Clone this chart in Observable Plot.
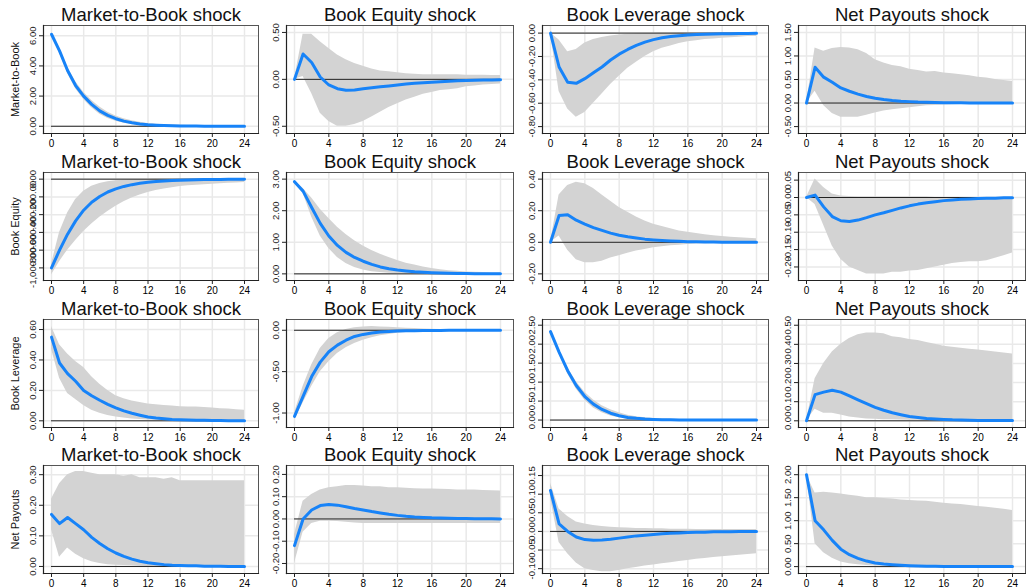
<!DOCTYPE html>
<html><head><meta charset="utf-8">
<script src="https://cdn.jsdelivr.net/npm/d3@7"></script>
<script src="https://cdn.jsdelivr.net/npm/@observablehq/plot@0.6"></script>
<style>
body{margin:0;background:#fff}
#root{position:relative;width:1026px;height:588px;overflow:hidden;background:#fff}
#root svg{position:absolute;overflow:visible}
</style></head><body><div id="root"></div>
<script>
const horizons = [0,1,2,3,4,5,6,7,8,9,10,11,12,13,14,15,16,17,18,19,20,21,22,23,24];
const variables = ["Market-to-Book","Book Equity","Book Leverage","Net Payouts"];
const shocks = ["Market-to-Book shock","Book Equity shock","Book Leverage shock","Net Payouts shock"];
const xTicks = [0,4,8,12,16,20,24];

// Row 1: Market-to-Book response
const mb_mb_irf = [6.10,5.00,3.70,2.70,2.00,1.45,1.02,0.72,0.50,0.34,0.23,0.15,0.10,0.07,0.05,0.03,0.02,0.015,0.01,0.007,0.005,0.004,0.003,0.002,0.002];
const mb_mb_hi  = [6.20,5.15,3.92,2.95,2.25,1.70,1.27,0.93,0.68,0.49,0.36,0.26,0.19,0.14,0.10,0.08,0.06,0.05,0.04,0.03,0.025,0.02,0.02,0.015,0.015];
const mb_mb_lo  = [6.00,4.85,3.50,2.48,1.78,1.22,0.80,0.52,0.33,0.20,0.12,0.07,0.04,0.02,0.01,0.005,0,0,0,0,0,0,0,0,0];
const mb_be_irf = [0,0.27,0.18,0.025,-0.06,-0.10,-0.115,-0.113,-0.10,-0.09,-0.08,-0.07,-0.06,-0.05,-0.042,-0.035,-0.03,-0.025,-0.02,-0.016,-0.013,-0.01,-0.008,-0.006,-0.005];
const mb_be_hi  = [0,0.48,0.48,0.40,0.33,0.26,0.21,0.17,0.14,0.11,0.09,0.08,0.07,0.06,0.055,0.05,0.05,0.05,0.05,0.05,0.045,0.045,0.045,0.04,0.04];
const mb_be_lo  = [0,0.03,-0.15,-0.36,-0.45,-0.50,-0.50,-0.48,-0.45,-0.40,-0.35,-0.30,-0.26,-0.22,-0.19,-0.16,-0.14,-0.12,-0.11,-0.10,-0.08,-0.07,-0.06,-0.055,-0.05];
const mb_bl_irf = [0,-0.29,-0.42,-0.43,-0.39,-0.34,-0.29,-0.23,-0.18,-0.14,-0.105,-0.077,-0.056,-0.04,-0.03,-0.022,-0.017,-0.013,-0.01,-0.008,-0.006,-0.005,-0.004,-0.003,-0.002];
const mb_bl_hi  = [0,-0.06,-0.16,-0.14,-0.085,-0.055,-0.037,-0.025,-0.016,-0.01,-0.006,-0.004,-0.003,-0.002,-0.001,0,0,0,0,0,0,0,0,0,0];
const mb_bl_lo  = [0,-0.50,-0.65,-0.72,-0.68,-0.60,-0.52,-0.44,-0.37,-0.30,-0.25,-0.20,-0.16,-0.13,-0.11,-0.09,-0.075,-0.065,-0.055,-0.05,-0.045,-0.04,-0.035,-0.03,-0.03];
const mb_np_irf = [0,0.76,0.55,0.44,0.32,0.25,0.19,0.14,0.10,0.075,0.055,0.04,0.03,0.02,0.015,0.01,0.008,0.006,0.004,0.003,0.002,0.002,0.001,0.001,0.001];
const mb_np_hi  = [0,1.17,1.10,1.16,1.18,1.17,1.13,1.05,0.92,0.85,0.80,0.77,0.72,0.69,0.66,0.67,0.64,0.62,0.60,0.58,0.55,0.53,0.50,0.48,0.46];
const mb_np_lo  = [0,0.25,-0.05,-0.22,-0.30,-0.30,-0.30,-0.26,-0.21,-0.17,-0.14,-0.12,-0.10,-0.08,-0.06,-0.05,-0.04,-0.035,-0.03,-0.025,-0.02,-0.02,-0.02,-0.02,-0.02];

// Row 2: Book Equity response
const be_mb_irf = [-1000,-800,-620,-470,-350,-260,-195,-145,-110,-82,-62,-47,-36,-27,-21,-16,-12,-9,-7,-5,-4,-3,-2,-1.5,-1];
const be_mb_hi  = [-960,-600,-380,-230,-135,-80,-48,-30,-19,-12,-8,-5,-3,-2,-1,0,0,0,0,0,0,0,0,0,0];
const be_mb_lo  = [-1080,-930,-800,-690,-590,-505,-430,-365,-305,-255,-212,-178,-150,-128,-110,-96,-84,-75,-68,-62,-57,-52,-47,-42,-38];
const be_be_irf = [2.92,2.62,2.10,1.60,1.20,0.90,0.68,0.52,0.40,0.30,0.22,0.16,0.12,0.09,0.065,0.048,0.035,0.026,0.019,0.014,0.01,0.007,0.005,0.004,0.003];
const be_be_hi  = [2.95,2.70,2.40,2.05,1.75,1.48,1.25,1.05,0.88,0.74,0.62,0.52,0.42,0.34,0.28,0.22,0.17,0.13,0.10,0.08,0.06,0.05,0.04,0.03,0.025];
const be_be_lo  = [2.88,2.55,1.80,1.20,0.80,0.52,0.33,0.20,0.12,0.07,0.04,0.02,0.01,0.005,0,0,0,0,0,0,0,0,0,0,0];
const be_bl_irf = [0,0.17,0.175,0.14,0.115,0.093,0.075,0.058,0.045,0.035,0.027,0.02,0.015,0.011,0.008,0.006,0.004,0.003,0.002,0.002,0.001,0.001,0.001,0,0];
const be_bl_hi  = [0,0.30,0.36,0.38,0.37,0.34,0.30,0.26,0.22,0.19,0.16,0.135,0.115,0.10,0.085,0.072,0.063,0.055,0.048,0.042,0.037,0.032,0.028,0.025,0.022];
const be_bl_lo  = [0,0.04,-0.05,-0.11,-0.13,-0.13,-0.12,-0.10,-0.085,-0.07,-0.055,-0.045,-0.035,-0.028,-0.022,-0.018,-0.014,-0.011,-0.009,-0.007,-0.006,-0.005,-0.004,-0.004,-0.003];
const be_np_irf = [0,0.007,-0.027,-0.055,-0.067,-0.069,-0.065,-0.058,-0.05,-0.044,-0.037,-0.03,-0.024,-0.019,-0.015,-0.012,-0.009,-0.007,-0.005,-0.004,-0.003,-0.002,-0.002,-0.001,-0.001];
const be_np_hi  = [0,0.053,0.029,0.01,0.004,0.003,0.002,0.002,0.002,0.002,0.002,0.002,0.002,0.002,0.002,0.001,0.001,0.001,0.001,0.001,0.001,0.001,0.001,0.001,0.001];
const be_np_lo  = [0,-0.02,-0.08,-0.14,-0.178,-0.20,-0.21,-0.22,-0.22,-0.22,-0.215,-0.215,-0.212,-0.21,-0.205,-0.20,-0.195,-0.19,-0.187,-0.185,-0.185,-0.182,-0.175,-0.168,-0.16];

// Row 3: Book Leverage response
const bl_mb_irf = [0.55,0.38,0.31,0.26,0.20,0.165,0.135,0.108,0.085,0.065,0.05,0.037,0.025,0.018,0.013,0.009,0.007,0.005,0.004,0.003,0.002,0.002,0.001,0.001,0.001];
const bl_mb_hi  = [0.62,0.50,0.44,0.39,0.35,0.29,0.24,0.20,0.165,0.145,0.13,0.12,0.11,0.105,0.10,0.097,0.093,0.09,0.09,0.088,0.085,0.08,0.077,0.073,0.07];
const bl_mb_lo  = [0.47,0.28,0.18,0.14,0.10,0.07,0.05,0.035,0.025,0.018,0.012,0.008,0.005,0.003,0.002,0.001,0,0,0,0,0,0,0,0,0];
const bl_be_irf = [-1.04,-0.80,-0.56,-0.385,-0.26,-0.18,-0.12,-0.075,-0.05,-0.033,-0.022,-0.015,-0.01,-0.007,-0.005,-0.003,-0.002,-0.002,-0.001,-0.001,-0.001,0,0,0,0];
const bl_be_hi  = [-1.00,-0.68,-0.42,-0.22,-0.10,-0.03,0.01,0.03,0.04,0.045,0.04,0.035,0.03,0.025,0.02,0.015,0.012,0.01,0.008,0.007,0.006,0.005,0.005,0.004,0.004];
const bl_be_lo  = [-1.08,-0.88,-0.68,-0.50,-0.38,-0.28,-0.21,-0.16,-0.12,-0.09,-0.065,-0.05,-0.037,-0.028,-0.02,-0.015,-0.012,-0.01,-0.008,-0.006,-0.005,-0.004,-0.003,-0.003,-0.002];
const bl_bl_irf = [2.33,1.79,1.30,0.91,0.62,0.42,0.28,0.18,0.115,0.07,0.045,0.028,0.017,0.01,0.006,0.004,0.002,0.001,0.001,0,0,0,0,0,0];
const bl_bl_hi  = [2.36,1.84,1.38,1.01,0.73,0.53,0.38,0.27,0.19,0.13,0.09,0.06,0.04,0.03,0.02,0.015,0.01,0.008,0.006,0.005,0.004,0.003,0.002,0.002,0.002];
const bl_bl_lo  = [2.30,1.74,1.22,0.82,0.52,0.32,0.19,0.11,0.06,0.03,0.015,0.007,0.003,0.001,0,0,0,0,0,0,0,0,0,0,0];
const bl_np_irf = [0,0.137,0.15,0.16,0.15,0.13,0.11,0.09,0.07,0.055,0.042,0.032,0.023,0.017,0.012,0.009,0.007,0.005,0.004,0.003,0.002,0.002,0.001,0.001,0.001];
const bl_np_hi  = [0,0.22,0.30,0.36,0.40,0.43,0.45,0.46,0.46,0.455,0.44,0.435,0.425,0.42,0.41,0.40,0.39,0.385,0.38,0.375,0.37,0.365,0.36,0.355,0.35];
const bl_np_lo  = [0,0.06,0.04,0.04,0.03,0.02,0.015,0.01,0.008,0.006,0.005,0.004,0.003,0.003,0.002,0.002,0.001,0.001,0.001,0,0,0,0,0,0];

// Row 4: Net Payouts response
const np_mb_irf = [0.17,0.14,0.16,0.14,0.12,0.095,0.075,0.058,0.044,0.033,0.024,0.017,0.012,0.009,0.006,0.004,0.003,0.002,0.002,0.001,0.001,0.001,0,0,0];
const np_mb_hi  = [0.22,0.27,0.30,0.31,0.31,0.305,0.30,0.30,0.30,0.295,0.30,0.29,0.29,0.29,0.285,0.29,0.28,0.28,0.28,0.28,0.28,0.28,0.28,0.28,0.28];
const np_mb_lo  = [0.12,0.03,0.06,0.04,0.025,0.015,0.01,0.006,0.004,0.003,0.002,0.001,0,0,0,0,0,0,0,0,0,0,0,0,0];
const np_be_irf = [-0.12,0.0,0.04,0.06,0.065,0.062,0.055,0.047,0.04,0.033,0.027,0.021,0.016,0.012,0.009,0.007,0.005,0.004,0.003,0.002,0.002,0.001,0.001,0.001,0];
const np_be_hi  = [-0.07,0.08,0.11,0.13,0.14,0.145,0.15,0.15,0.148,0.145,0.145,0.14,0.14,0.138,0.136,0.135,0.135,0.133,0.132,0.13,0.13,0.13,0.128,0.127,0.125];
const np_be_lo  = [-0.20,-0.06,-0.02,-0.01,-0.01,-0.012,-0.015,-0.018,-0.02,-0.02,-0.02,-0.02,-0.02,-0.02,-0.02,-0.02,-0.02,-0.02,-0.02,-0.02,-0.02,-0.02,-0.02,-0.02,-0.02];
const np_bl_irf = [0.11,0.02,0.0,-0.015,-0.022,-0.024,-0.023,-0.021,-0.018,-0.015,-0.012,-0.01,-0.008,-0.006,-0.005,-0.004,-0.003,-0.002,-0.002,-0.001,-0.001,-0.001,0,0,0];
const np_bl_hi  = [0.13,0.06,0.04,0.025,0.02,0.016,0.013,0.011,0.01,0.009,0.008,0.008,0.007,0.007,0.006,0.006,0.006,0.005,0.005,0.005,0.005,0.005,0.005,0.005,0.005];
const np_bl_lo  = [0.09,-0.03,-0.06,-0.085,-0.10,-0.105,-0.108,-0.108,-0.105,-0.10,-0.097,-0.093,-0.09,-0.087,-0.084,-0.081,-0.078,-0.075,-0.073,-0.07,-0.068,-0.066,-0.064,-0.062,-0.06];
const np_np_irf = [2.0,1.0,0.8,0.57,0.38,0.26,0.18,0.12,0.08,0.055,0.04,0.028,0.02,0.014,0.01,0.007,0.005,0.004,0.003,0.002,0.001,0.001,0.001,0,0];
const np_np_hi  = [2.0,1.6,1.62,1.60,1.58,1.55,1.53,1.50,1.50,1.48,1.47,1.45,1.44,1.43,1.42,1.40,1.38,1.36,1.35,1.33,1.31,1.29,1.27,1.25,1.22];
const np_np_lo  = [2.0,0.5,0.3,0.18,0.10,0.06,0.04,0.025,0.015,0.01,0.005,0.002,0,0,0,0,0,0,0,0,0,0,0,0,0];

// y tick values per panel
const yt_mb_mb = [0,2,4,6];
const yt_mb_be = [-0.5,0,0.5];
const yt_mb_bl = [-0.8,-0.6,-0.4,-0.2,0];
const yt_mb_np = [-0.5,0,0.5,1,1.5];
const yt_be_mb = [-1000,-800,-600,-400,-200,0];
const yt_be_be = [0,1,2,3];
const yt_be_bl = [-0.2,0,0.2,0.4];
const yt_be_np = [-0.2,-0.15,-0.1,-0.05,0,0.05];
const yt_bl_mb = [0,0.2,0.4,0.6];
const yt_bl_be = [-1,-0.5,0];
const yt_bl_bl = [0,0.5,1,1.5,2,2.5];
const yt_bl_np = [0,0.1,0.2,0.3,0.4,0.5];
const yt_np_mb = [0,0.1,0.2,0.3];
const yt_np_be = [-0.2,-0.1,0,0.1,0.2];
const yt_np_bl = [-0.1,-0.05,0,0.05,0.1,0.15];
const yt_np_np = [0,0.5,1,1.5,2];

const panels = [
  [[mb_mb_irf,mb_mb_lo,mb_mb_hi,yt_mb_mb,[-0.48,6.68]],[mb_be_irf,mb_be_lo,mb_be_hi,yt_mb_be,[-0.577,0.574]],[mb_bl_irf,mb_bl_lo,mb_bl_hi,yt_mb_bl,[-0.859,0.065]],[mb_np_irf,mb_np_lo,mb_np_hi,yt_mb_np,[-0.647,1.647]]],
  [[be_mb_irf,be_mb_lo,be_mb_hi,yt_be_mb,[-1142,75]],[be_be_irf,be_be_lo,be_be_hi,yt_be_be,[-0.21,3.21]],[be_bl_irf,be_bl_lo,be_bl_hi,yt_be_bl,[-0.242,0.442]],[be_np_irf,be_np_lo,be_np_hi,yt_be_np,[-0.239,0.072]]],
  [[bl_mb_irf,bl_mb_lo,bl_mb_hi,yt_bl_mb,[-0.044,0.666]],[bl_be_irf,bl_be_lo,bl_be_hi,yt_bl_be,[-1.175,0.13]],[bl_bl_irf,bl_bl_lo,bl_bl_hi,yt_bl_bl,[-0.196,2.65]],[bl_np_irf,bl_np_lo,bl_np_hi,yt_bl_np,[-0.035,0.53]]],
  [[np_mb_irf,np_mb_lo,np_mb_hi,yt_np_mb,[-0.023,0.33]],[np_be_irf,np_be_lo,np_be_hi,yt_np_be,[-0.245,0.24]],[np_bl_irf,np_bl_lo,np_bl_hi,yt_np_bl,[-0.113,0.177]],[np_np_irf,np_np_lo,np_np_hi,yt_np_np,[-0.15,2.2]]]
];

// layout
const frameTops = [24.5, 171.5, 319, 465];
const frameH = 108;
const frameLefts = [43, 286, 542, 798];
const frameWs = [215, 227, 226, 227];
const insetR = [14, 13, 12, 13];
const MT = 24, MB = 20, MR = 3;
const fmt = d => d3.format(",.2f")(d).replace("\u2212", "-");
const root = document.getElementById("root");

for (let r = 0; r < 4; r++) {
  for (let c = 0; c < 4; c++) {
    const [irf, lo, hi, yt, dom] = panels[r][c];
    const data = horizons.map((h, i) => ({h, irf: irf[i], lo: lo[i], hi: hi[i]}));
    const ML = c === 0 ? 43 : 40;
    const marks = [
      Plot.gridX(xTicks, {stroke: "#e9e9e9", strokeOpacity: 1, strokeWidth: 1.5}),
      Plot.gridY(yt, {stroke: "#e9e9e9", strokeOpacity: 1, strokeWidth: 1.5}),
      Plot.areaY(data, {x: "h", y1: "lo", y2: "hi", fill: "#d3d3d3", fillOpacity: 1}),
      Plot.ruleY([0], {x1: 0, x2: 24, stroke: "#222", strokeWidth: 1}),
      Plot.lineY(data, {x: "h", y: "irf", stroke: "#1783f8", strokeWidth: 3}),
      Plot.frame({stroke: "#555"}),
      Plot.frame({anchor: "left", stroke: "#222", strokeWidth: 1.2}),
      Plot.frame({anchor: "bottom", stroke: "#222", strokeWidth: 1.2}),
      Plot.axisX({ticks: xTicks, tickSize: 4, tickPadding: 2, fontSize: 10, label: null, tickFormat: d => String(d), stroke: "#222"}),
      Plot.axisY({ticks: yt, tickSize: 4, tickFormat: () => "", label: null, stroke: "#222"}),
      Plot.text(yt, {y: d => d, text: fmt, frameAnchor: "left", dx: -11, rotate: -90, textAnchor: "middle", lineAnchor: "middle", fontSize: 9.5, fill: "#222"}),
      Plot.text([shocks[c]], {text: d => d, frameAnchor: "top", dy: -5, lineAnchor: "bottom", fontSize: 18.5, fill: "#111"})
    ];
    if (c === 0) {
      marks.push(Plot.text([variables[r]], {text: d => d, frameAnchor: "left", dx: -28, rotate: -90, textAnchor: "middle", lineAnchor: "middle", fontSize: 11, fill: "#111"}));
    }
    const svg = Plot.plot({
      width: ML + frameWs[c] + MR,
      height: MT + frameH + MB,
      marginLeft: ML, marginRight: MR, marginTop: MT, marginBottom: MB,
      style: {background: "transparent", fontFamily: "'Liberation Sans', Arial, sans-serif", overflow: "visible"},
      x: {domain: [0, 24], insetLeft: 8, insetRight: insetR[c]},
      y: {domain: dom},
      marks
    });
    svg.style.left = (frameLefts[c] - ML) + "px";
    svg.style.top = (frameTops[r] - MT) + "px";
    root.appendChild(svg);
  }
}
</script></body></html>
